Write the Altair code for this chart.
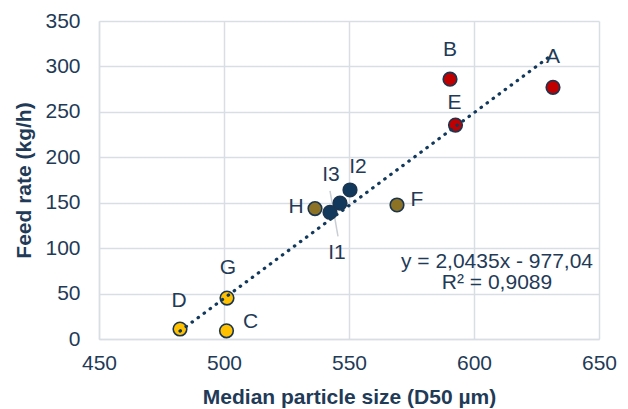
import altair as alt
import pandas as pd

labels = ["A", "B", "E", "F", "I2", "I3", "I1", "H", "G", "D", "C"]
particle_size = [631.6, 590.4, 592.6, 569.2, 550.4, 546.4, 542.4, 536.4, 501.2, 482.4, 501.0]
feed_rate = [277, 286, 235.5, 147.5, 164, 149.5, 139.5, 143.5, 45, 11, 9]
groups = ["red", "red", "red", "olive", "navy", "navy", "navy", "olive", "gold", "gold", "gold"]

# label offsets (pixels) relative to each point
label_dx = [0, 0, -1, 20, 8, -9, 7, -19, 1, -1, 24]
label_dy = [-30, -29, -22, -5, -23, -28, 41, -2, -30, -28, -9]

trend_x = [482.4, 631.6]
trend_y = [8.7, 313.6]

# faint leader line near the I1 / I3 labels
leader_x = [542.4, 545.6]
leader_y = [163, 113]

eq_text = "y = 2,0435x - 977,04"
r2_text = "R² = 0,9089"

group_domain = ["red", "navy", "olive", "gold"]
group_colors = ["#C00000", "#12395C", "#8C7224", "#FFC000"]

TEXT = "#1F3B57"
GRID = "#D9DEE4"
FONT = "Liberation Sans"
FS = 21

df = pd.DataFrame({"label": labels, "x": particle_size, "y": feed_rate, "g": groups})
trend = pd.DataFrame({"x": trend_x, "y": trend_y})
leader = pd.DataFrame({"x": [leader_x[0]], "y": [leader_y[0]], "x2": [leader_x[1]], "y2": [leader_y[1]]})

xs = alt.Scale(domain=[450, 650], nice=False, zero=False)
ys = alt.Scale(domain=[0, 350], nice=False)

xax = alt.Axis(values=[450, 500, 550, 600, 650], title="Median particle size (D50 µm)",
               labelFontSize=FS, titleFontSize=FS, labelPadding=13, titlePadding=13,
               labelFlush=False)
yax = alt.Axis(values=[0, 50, 100, 150, 200, 250, 300, 350], title="Feed rate (kg/h)",
               labelFontSize=FS, titleFontSize=FS, labelPadding=19, titlePadding=10,
               labelFlush=False)

base = alt.Chart(df)
points = base.mark_circle(size=185, opacity=1, stroke="#1B3550", strokeWidth=1.6).encode(
    x=alt.X("x:Q", scale=xs, axis=xax),
    y=alt.Y("y:Q", scale=ys, axis=yax),
    color=alt.Color("g:N", scale=alt.Scale(domain=group_domain, range=group_colors), legend=None),
)

lead = alt.Chart(leader).mark_rule(color="#C9CED4", strokeWidth=1.5).encode(
    x=alt.X("x:Q", scale=xs), y=alt.Y("y:Q", scale=ys), x2="x2:Q", y2="y2:Q")

line = alt.Chart(trend).mark_line(color="#12395C", strokeWidth=3.2, strokeDash=[0.5, 7],
                                  strokeCap="round").encode(
    x=alt.X("x:Q", scale=xs), y=alt.Y("y:Q", scale=ys))

text_layers = []
for lab, ddx, ddy in zip(labels, label_dx, label_dy):
    text_layers.append(
        base.transform_filter(alt.datum.label == lab).mark_text(
            dx=ddx, dy=ddy, fontSize=FS, font=FONT, color=TEXT, baseline="middle"
        ).encode(x=alt.X("x:Q", scale=xs), y=alt.Y("y:Q", scale=ys), text="label:N")
    )

eq = alt.Chart(pd.DataFrame({"t": [eq_text]})).mark_text(
    fontSize=FS, font=FONT, color=TEXT, baseline="middle").encode(
    x=alt.value(398), y=alt.value(241), text="t:N")
r2 = alt.Chart(pd.DataFrame({"t": [r2_text]})).mark_text(
    fontSize=FS, font=FONT, color=TEXT, baseline="middle").encode(
    x=alt.value(398), y=alt.value(262), text="t:N")

chart = alt.layer(lead, points, line, *text_layers, eq, r2).properties(
    width=500, height=318,
    autosize=alt.AutoSizeParams(type="none"),
    padding={"left": 91, "top": 13, "right": 21, "bottom": 70},
    background="white",
).configure_axis(
    grid=True, gridColor=GRID, gridWidth=1.5, domainColor=GRID, domainWidth=1.5,
    ticks=False, labelColor=TEXT, titleColor=TEXT, labelFont=FONT, titleFont=FONT,
    titleFontWeight="bold",
).configure_view(stroke=None)

chart.save("out.html", embed_options={"renderer": "svg", "actions": False})
